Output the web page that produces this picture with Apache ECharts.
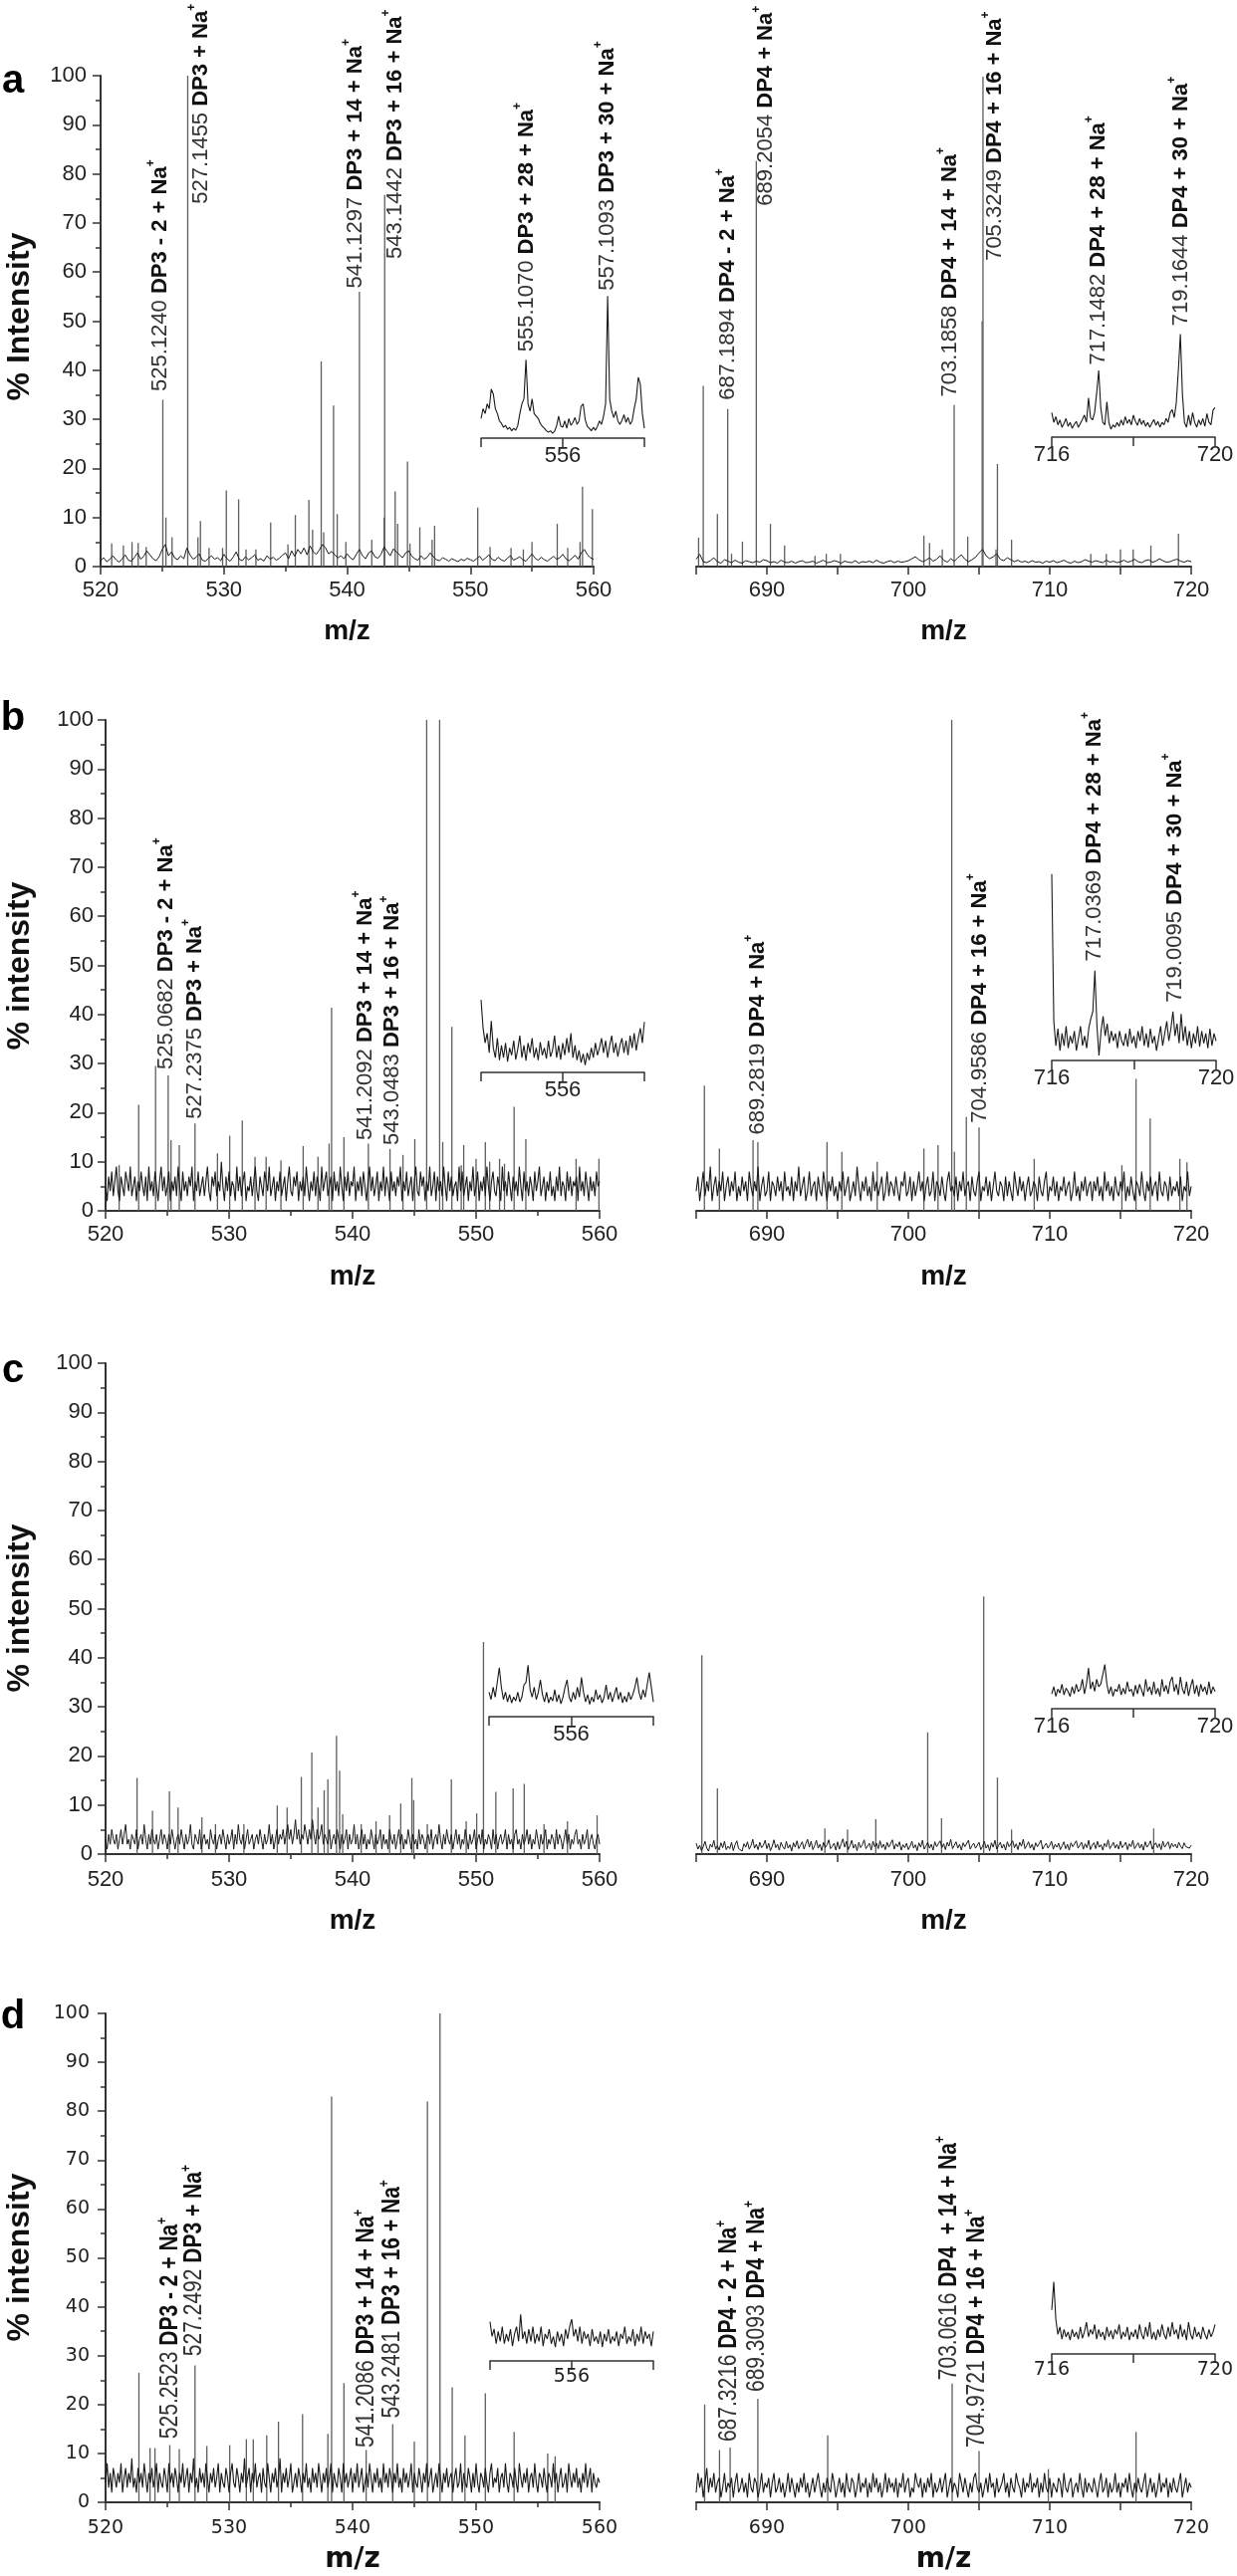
<!DOCTYPE html>
<html><head><meta charset="utf-8">
<script src="https://cdn.jsdelivr.net/npm/echarts@6.0.0/dist/echarts.min.js"></script>
<style>html,body{margin:0;padding:0;background:#fff}#c{width:1242px;height:2587px}</style>
</head><body><div id="c"></div>
<script>
// ---------- DATA ----------
const A_NOISE_STEP = 0.25;   // m/z spacing of baseline samples, panel a
const NOISE_STEP = 0.125;    // m/z spacing of baseline samples, panels b-d
const INSET_STEP = 0.05;     // m/z spacing of inset samples
const LEFT_START = 520, RIGHT_START = 685, INSET_L_START = 554, INSET_R_START = 716;

// panel a
const aLeftNoise = [
1.2,1.8,1.0,1.5,2.2,1.4,0.9,1.6,2.4,1.3,1.1,1.9,2.8,1.5,2.1,3.2,2.4,1.6,1.2,2.0,
3.5,4.5,2.2,3.0,1.8,1.4,2.2,1.6,3.8,2.4,1.5,1.9,2.6,1.3,1.1,1.7,2.2,1.5,1.8,1.2,
2.5,1.6,1.1,1.9,3.0,1.5,1.2,2.0,1.4,1.8,2.4,1.3,1.6,1.1,2.2,1.5,1.9,1.3,1.7,2.3,
2.8,1.6,3.2,2.1,3.5,2.6,3.8,2.4,4.2,3.0,2.5,3.4,4.5,3.8,2.6,3.1,2.4,1.8,2.2,1.6,
2.6,1.8,1.4,2.5,3.5,2.2,1.6,2.8,3.2,2.0,1.7,2.5,4.0,3.1,2.2,3.6,3.0,2.4,1.8,2.8,
3.2,2.1,1.6,1.3,2.2,1.5,1.9,2.8,2.0,1.4,1.2,1.8,1.5,1.1,1.6,1.3,1.0,1.5,1.2,1.7,
1.4,1.1,1.6,2.1,1.3,1.8,2.4,1.5,1.2,1.9,1.4,1.1,1.7,2.2,1.3,1.6,2.0,1.4,1.1,1.8,
2.6,1.7,1.3,1.9,1.4,1.1,1.6,2.1,1.5,1.8,2.5,1.6,1.2,1.7,2.3,1.5,2.8,3.5,2.4,1.8,
1.5];
const aRightNoise = [
1.5,2.5,1.0,0.8,1.2,1.8,1.0,0.7,1.4,1.1,0.8,1.3,0.9,0.7,1.2,1.0,0.8,1.1,0.9,1.4,
1.2,0.8,1.0,0.7,1.3,0.9,0.8,1.1,0.7,1.0,1.2,0.8,0.9,1.1,0.7,1.0,1.3,0.8,0.9,1.2,
1.0,0.7,1.1,0.9,0.8,1.2,0.7,1.0,0.9,1.1,0.8,1.3,0.9,0.7,1.0,1.2,0.8,1.1,0.9,1.0,
1.2,1.6,2.0,1.4,1.0,1.3,1.8,1.1,1.5,2.2,1.3,0.9,1.6,1.1,1.8,2.4,1.5,1.0,1.4,1.9,
2.8,3.5,2.2,1.6,2.0,2.6,1.5,1.2,1.8,1.4,1.0,1.3,0.9,1.1,0.8,1.2,0.9,1.0,0.7,1.1,
0.9,1.2,0.8,1.0,1.3,0.9,0.7,1.1,0.8,1.0,1.4,1.1,0.9,1.2,1.0,0.8,1.3,0.9,1.1,0.8,
1.0,1.3,0.9,1.1,1.5,1.0,0.8,1.2,1.4,0.9,1.1,1.6,1.2,0.9,1.0,1.3,1.5,1.1,0.9,1.2,
1.0];
const aLeftPeaks = [[520.9,4.7],[521.85,4.3],[522.55,5],[523.05,4.8],[523.7,4],[525.05,34],[525.3,10],[525.8,6],[527.07,100],[527.9,6],[528.1,9.3],[528.8,3.8],[529.9,3.8],[530.2,15.5],[531.2,13.7],[531.8,3.5],[532.6,3.5],[533.8,9],[535.2,4.5],[535.8,10.5],[536.9,13.6],[537.2,7.5],[537.9,41.8],[538.1,7],[538.9,32.8],[539.2,10.7],[539.9,5],[541.0,56],[542.0,5.5],[543.0,10],[543.05,75.7],[543.9,15.3],[544.1,8.7],[544.9,21.4],[545.1,4.7],[545.9,8],[546.9,5.5],[547.1,8.3],[550.6,12],[551.6,4],[553.3,3.8],[554.3,3.5],[555.0,5],[557.05,8.7],[557.9,3.8],[558.9,5],[559.1,16.3],[559.9,11.7]];
const aRightPeaks = [[685.17,5.9],[685.5,36.8],[686.5,10.7],[687.23,32.1],[687.5,2.6],[688.27,5.1],[689.25,82.6],[690.25,8.7],[691.25,4.3],[693.4,2.2],[694.2,2.6],[695.2,2.6],[701.1,6.3],[701.5,4.8],[702.4,3.5],[703.24,32.9],[704.2,6.1],[705.22,50],[705.28,99.8],[706.2,3.5],[706.3,20.9],[707.3,5.5],[712.9,2.6],[714.0,2.6],[715.0,3.5],[715.9,3.5],[717.15,4.3],[719.1,6.7]];
const aInsetLeft = [
4,6,5,7,6,10,9,6,5,3.5, 3,2.2,2.6,1.8,2.2,1.5,2,1.6,2.6,5,
7,8,16,7,5.5,8,5,4.5,4,3, 2.4,2,1.5,1.2,1.5,1,1.4,2.5,4.5,2.5,
2.2,3.5,2,4,2.6,3.2,4.2,2.8,3.5,6.5, 7,3.8,2.4,2,1.5,2.2,1.6,2.4,3.5,2.8,
4.5,7,29,8,5.5,4.2,5.5,3.5,2.8,3.6, 4.8,3.2,4.2,2.8,3.5,6,8,12.4,11,5,
2];
const aInsetRight = [
5,3,4.2,2.5,3.5,2,2.8,3.8,2.2,3, 1.8,2.6,3.2,2,2.8,3.6,4.5,3,8,4,
3.5,5,9,13.6,6,3,2.5,7.2,3,1.6, 2.5,2,3,2.2,3.5,2.4,4.2,2.8,3.6,2.5,
4.5,3.2,2.4,3.8,2.6,3.4,2.2,3,2,2.8, 3.6,2.4,3.2,2,3,2.5,3.8,3,5,5.6,
4,7,13.6,21,8.8,3,2,4.5,2.4,5, 3,2,3.5,2.5,3.8,2.2,4.8,3,2.5,5.5,
6];
const aLeftLabels = [[524.85,35.5,'525.1240','DP3 - 2 + Na'],[528.13,73.7,'527.1455','DP3 + Na'],[540.65,56.5,'541.1297','DP3 + 14 + Na'],[543.93,62.5,'543.1442','DP3 + 16 + Na']];
const aRightLabels = [[687.27,33.7,'687.1894','DP4 - 2 + Na'],[689.94,73.3,'689.2054','DP4 + Na'],[702.93,34.4,'703.1858','DP4 + 14 + Na'],[706.09,62.1,'705.3249','DP4 + 16 + Na']];
const aInsetLeftLabels = [[555.12,17.4,'555.1070','DP3 + 28 + Na'],[557.1,29.9,'557.1093','DP3 + 30 + Na']];
const aInsetRightLabels = [[717.15,14.5,'717.1482','DP4 + 28 + Na'],[719.17,22.5,'719.1644','DP4 + 30 + Na']];

// panel b
const bLeftNoise = [
5,2,7,4,8,3,6,9,4,2,7,5,3,8,6,4,
9,3,5,7,2,6,4,8,5,3,7,2,9,4,6,3,
8,5,2,6,9,4,7,3,5,8,2,6,4,7,3,9,
5,2,8,4,6,3,7,5,9,2,6,4,8,3,5,7,
3,6,9,4,2,7,5,8,3,6,4,10,5,2,7,4,
8,3,6,5,2,9,4,7,3,6,8,2,5,4,7,3,
6,9,4,2,7,5,3,8,6,4,9,3,5,7,2,6,
4,8,3,5,7,2,6,9,4,3,7,5,8,2,6,4,
7,3,9,5,2,6,4,8,3,7,5,2,9,4,6,8,
3,5,7,2,8,4,6,3,9,5,2,7,4,8,3,6,
5,9,2,6,4,7,3,8,5,2,6,9,4,7,3,5,
8,2,6,4,9,3,7,5,2,8,4,6,3,7,5,9,
2,6,4,8,3,5,7,2,6,9,4,3,8,5,7,2,
6,4,9,3,5,8,2,7,4,6,3,9,5,2,8,4,
7,3,5,6,2,9,4,8,3,5,7,2,6,4,9,3,
5,8,2,6,4,7,3,9,5,2,6,8,4,3,7,5,
2,9,4,6,3,8,5,2,7,4,6,3,9,5,2,8,
4,6,3,7,5,2,8,4,6,9,3,5,7,2,6,4,
8,3,5,2,7,4,9,3,6,5,2,8,4,7,3,6,
5,7,2,9,4,6,3,8,5,2,7,4,6,3,8,5,
6];
const bRightNoise = [
4,7,2,5,8,3,6,4,9,2,5,7,3,6,4,8,
2,5,7,3,6,4,8,2,5,3,7,4,6,2,8,5,
3,6,4,9,2,5,7,3,4,8,2,6,5,3,7,4,
6,2,8,4,5,3,7,2,6,4,9,3,5,7,2,4,
8,3,5,6,2,7,4,3,8,5,2,6,4,7,3,5,
2,6,4,8,3,5,7,2,4,6,3,9,5,2,6,4,
7,3,5,2,8,4,6,3,5,7,2,4,8,3,6,5,
3,7,4,2,6,5,8,3,4,7,2,6,3,5,8,4,
6,2,5,7,3,4,8,2,6,5,3,7,4,2,6,8,
4,5,3,7,2,6,4,8,3,5,6,2,7,4,3,6,
8,2,5,4,7,3,6,2,5,8,4,3,6,5,2,7,
3,6,4,2,8,5,3,7,4,6,2,5,7,3,4,6,
5,2,7,4,3,6,8,2,5,4,7,3,6,2,5,4,
7,3,5,6,2,4,8,3,5,2,6,4,7,3,5,6,
2,6,4,7,3,5,2,8,4,6,3,5,2,7,4,3,
6,4,8,2,5,3,7,4,2,6,5,3,8,4,2,6,
4,7,3,5,6,2,8,4,3,6,5,2,7,3,5,4,
6,3,7,2,5,4,8,3,
5];
const bLeftPeaks = [[521.1,9.3],[522.68,21.6],[524.05,29.5],[525.07,27.6],[525.3,14.4],[525.97,13.4],[527.24,17.8],[529.06,11.7],[530.05,15.3],[531.07,18.4],[532.1,11],[533.0,11],[534.2,10.3],[536.0,13.2],[537.2,11],[538.1,13.7],[538.3,41.4],[539.3,15],[541.28,13.7],[543.03,12.6],[544.08,11.4],[545.04,14.6],[546.0,100],[547.05,100],[547.3,14],[548.04,37.5],[548.8,9.3],[549.0,13.4],[550.0,10.6],[550.75,14],[551.1,10],[551.9,10.6],[552.3,9.6],[553.08,21.2],[554.03,14.6],[558.1,10.6],[559.95,10.6]];
const bRightPeaks = [[685.58,25.5],[686.64,12.7],[689.02,14.4],[689.36,14],[694.25,14],[695.3,12],[697.8,10],[701.1,12.7],[702.1,13.4],[703.07,100],[703.26,12],[704.1,19.1],[705.0,17],[708.9,10.6],[715.1,9.3],[716.1,26.9],[717.1,18.8],[719.2,10.6],[719.7,9.9]];
const bInsetLeft = [
14.8,9,6,8,4,10.5,5,3,7,2.5, 5.5,3,6,2.2,5,3.5,6.5,2.6,4.8,7.5,
3,5.5,2.4,6,4,7,3,5,2.5,6.2, 3.5,5,2.8,6.5,3.2,4.5,7.5,3,5.5,2.6,
6,3.5,7,4,8,3,5.5,2.5,4.5,2, 3.8,1.5,4,2.5,5,3,6,3.5,5,7,
4,6.5,3,5.5,7.5,4,6,3.2,5.5,7, 4,6.5,3.5,7.5,5,8,4.5,7,9,6,
10.3];
const bInsetRight = [
38,8,3,6.5,2,5.5,3,7,2.5,5, 3.5,6,2,4.5,7,3,5,2.5,6.5,8.5,
10,18.3,7,1,6,9,5,7.5,3.5,6, 4,5.5,2.5,6,4,3,5.5,2.8,6.5,3.5,
5,2.5,6,4,7,3,5.5,2.6,6.5,3.5, 5,2,4.5,7,3,5.5,8,4,6.5,10,
5,7.5,3.5,9.5,4,7,3,6,2.5,5.5, 3.5,7,2.8,6,3.5,5.5,2.5,6.5,3,5.5,
4];
const bLeftLabels = [[524.92,28.6,'525.0682','DP3 - 2 + Na'],[527.23,18.5,'527.2375','DP3 + Na'],[541.02,14.2,'541.2092','DP3 + 14 + Na'],[543.25,13.2,'543.0483','DP3 + 16 + Na']];
const bRightLabels = [[689.34,15.3,'689.2819','DP4 + Na'],[705.05,17.7,'704.9586','DP4 + 16 + Na']];
const bInsetLeftLabels = [];
const bInsetRightLabels = [[717.04,20,'717.0369','DP4 + 28 + Na'],[719.0,11.6,'719.0095','DP4 + 30 + Na']];

// panel c
const cLeftNoise = [
3,1,4,2,5,3,2,4,1,3,5,2,4,6,2,3,
1,4,3,2,5,1,3,4,2,6,3,1,4,2,5,3,
2,4,1,3,5,2,4,3,1,4,2,5,3,1,3,4,
2,5,3,1,4,2,3,6,2,1,4,3,2,5,1,3,
4,2,3,1,5,3,2,4,1,3,4,2,5,3,1,4,
2,3,5,1,4,2,6,3,2,4,1,3,5,2,3,4,
1,3,4,2,5,3,1,4,2,3,6,2,4,1,3,5,
2,4,3,5,2,4,6,3,5,2,4,7,3,5,2,4,
3,6,4,2,5,3,7,4,2,5,3,4,6,2,4,3,
2,5,1,3,4,2,5,3,1,4,2,3,5,1,4,2,
3,6,2,4,1,3,5,2,4,1,3,2,5,3,1,4,
2,3,5,1,4,2,3,1,5,3,2,4,1,3,5,2,
4,1,3,2,5,3,1,4,2,3,1,5,2,4,3,1,
3,4,2,5,1,3,4,2,6,3,1,4,2,5,3,2,
4,1,3,5,2,4,1,3,2,5,3,1,4,2,3,5,
1,3,4,2,5,1,3,2,4,3,1,5,2,4,1,3,
4,2,3,5,1,4,2,3,1,4,5,2,3,1,4,2,
3,5,2,4,1,3,2,5,3,1,4,2,3,5,1,3,
2,4,3,1,5,2,4,3,1,3,5,2,4,1,3,2,
4,5,2,3,1,4,2,3,5,1,3,4,2,1,3,4,
2];
const cRightNoise = [
2.2,1.0,1.8,0.7,1.5,2.6,1.2,0.6,2.0,1.4,2.8,1.0,1.7,0.8,2.3,1.3,
2.6,0.9,1.6,1.1,2.4,0.7,1.9,2.7,1.1,1.5,0.6,2.1,1.4,2.5,1.0,1.7,
3.0,1.2,2.0,0.9,2.4,1.3,1.8,2.8,1.1,2.2,0.7,1.6,2.9,1.3,2.0,0.8,
2.4,1.5,1.0,2.6,1.2,1.9,0.6,2.3,1.4,2.7,1.1,1.8,2.5,1.0,2.1,3.0,
1.4,2.6,0.9,1.7,2.8,1.2,2.0,0.7,2.4,1.3,1.9,2.9,1.1,1.6,2.2,0.8,
2.5,1.0,2.1,3.1,1.4,2.6,0.9,1.7,2.8,1.2,2.0,0.7,2.4,1.3,1.9,2.9,
1.1,1.6,2.2,0.8,2.6,1.5,2.2,1.1,2.7,1.3,2.0,0.9,2.4,1.4,1.8,2.9,
1.0,2.1,1.5,2.5,0.8,1.9,1.3,2.2,0.9,1.6,2.6,1.2,1.9,0.7,2.3,1.4,
2.8,1.0,1.7,2.4,1.2,2.0,0.8,2.5,1.5,1.1,2.7,1.3,2.1,0.9,2.4,1.6,
3.0,1.1,1.8,2.5,1.2,2.0,0.8,2.3,1.5,1.9,2.8,1.0,1.7,2.2,1.2,1.8,
2.4,0.9,1.6,2.6,1.2,1.9,0.7,2.3,1.4,2.8,1.0,1.7,2.4,1.2,2.0,0.8,
2.5,1.5,1.1,2.7,1.3,2.1,0.9,2.4,1.6,3.0,1.1,1.8,2.5,1.2,2.0,0.8,
2.3,1.5,1.9,2.8,1.0,1.7,2.2,1.2,1.8,2.6,1.0,2.0,1.4,2.2,0.9,1.7,
2.5,1.1,2.0,0.8,2.3,1.5,1.9,2.7,1.2,1.6,2.4,1.0,2.1,1.3,2.8,0.9,
1.8,2.3,1.1,2.6,1.4,1.9,0.8,2.2,1.5,2.9,1.1,1.7,2.4,1.2,2.0,1.0,
2.6,1.3,1.8,2.4,0.9,2.1,1.5,2.8,1.1,1.7,2.3,1.2,2.0,0.8,2.5,1.4,
1.9,2.7,1.0,1.8,2.3,1.3,2.1,0.9,2.6,1.4,1.8,2.5,1.1,2.2,1.5,2.0,
1.2,2.4,1.6,1.1,2.3,1.5,1.9,1.2,
1.8];
const cLeftPeaks = [[522.55,15.5],[523.8,8.8],[525.17,12.8],[525.87,9.5],[527.8,7.5],[528.9,6.1],[531.2,6.1],[533.9,9.9],[534.7,9.5],[535.85,15.7],[536.7,20.7],[537.2,9.5],[537.7,13],[538.0,15.2],[538.7,24.1],[538.95,17],[539.2,8.1],[540.7,6.1],[541.9,6.7],[543.0,7.9],[543.9,10.3],[544.8,15.5],[544.95,11],[546.05,6.1],[548.0,15.2],[549.2,6.7],[550.05,8.3],[550.6,43.2],[551.6,12.7],[553.0,13.4],[553.9,14.3],[555.5,6.1],[557.4,6.7],[559.8,7.9]];
const cRightPeaks = [[685.4,40.5],[686.5,13.4],[694.1,5.2],[695.7,5],[697.7,7.1],[701.37,24.8],[702.35,7.3],[705.33,52.5],[706.3,15.6],[707.3,5],[717.35,5.2]];
const cInsetLeft = [
5,3.5,6,4,7,10,6,3.5,5,3, 4.5,2.8,4,3.2,5,3,4,6.5,7,10.5,
5.5,4,6,3.5,5,7.5,4.5,3,5,2.8, 4,3.2,5.5,3,4.5,2.6,4,6,7.5,4,
3,5,3.5,6,4,8,5,3,4.5,2.5, 4,3,5.5,3.5,4.5,2.8,4,6.5,3.5,5,
3,4.5,6,3.5,5,2.8,4.2,3,5,3.5, 4.5,6,8,5,3.5,5.5,4,6.5,9,6,
3];
const cInsetRight = [
3,4.5,2.5,4,3.2,5,2.8,4.2,3.5,2.5, 4.5,3,5,3.5,4,6,3,5,8.3,4,
5.5,3.5,6,4.5,5,7,9,5,3,4.5, 2.5,4,3.5,5,2.8,4.2,3,5.5,3.5,4,
2.5,4.8,3,5,3.8,2.5,6,3.5,4.5,2.8, 5.5,3,4.2,2.5,6,3.5,4.8,3,5.5,6.5,
3.5,5,2.8,6.5,4,3,5.5,2.6,4.5,6, 3,4.8,2.5,5,3.5,4.5,2.8,5.5,3,4.5,
3.5];

// panel d
const dLeftNoise = [
4,8,3,6,2,7,5,3,6,4,8,2,5,7,3,6,
4,9,3,5,2,7,4,6,3,8,5,2,6,4,7,3,
5,8,2,6,4,3,7,5,2,8,4,6,3,7,5,2,
6,4,8,3,5,7,2,6,4,9,3,5,2,7,4,6,
3,8,5,2,6,4,7,3,5,8,2,6,4,3,7,5,
2,6,8,4,3,7,5,2,6,4,9,3,5,7,2,6,
4,8,3,5,6,2,7,4,3,8,5,2,6,4,7,3,
5,9,2,6,4,7,3,5,8,2,4,6,3,7,5,2,
6,4,8,3,5,2,7,4,6,3,8,5,2,6,4,7,
3,5,8,2,6,4,3,7,5,2,8,4,6,3,5,7,
2,6,4,8,3,5,7,2,4,6,3,8,5,2,6,4,
7,3,5,2,8,4,6,3,7,5,2,6,4,8,3,5,
2,7,4,6,3,5,8,2,6,4,3,7,5,2,6,4,
8,3,5,7,2,4,6,3,8,5,2,6,4,7,3,5,
6,2,5,7,3,4,8,2,6,4,3,7,5,2,6,3,
8,4,2,6,5,3,7,4,2,6,8,3,5,4,7,2,
5,6,3,8,4,2,6,5,3,7,4,2,8,5,3,6,
4,7,2,5,6,3,8,4,2,6,5,3,7,4,2,6,
5,3,8,4,6,2,5,7,3,4,6,2,8,5,3,6,
4,7,3,5,2,6,4,8,3,5,7,2,6,4,3,5,
4];
const dRightNoise = [
2,6,3,5,1,4,7,2,5,3,6,2,4,5,1,3,
6,2,4,3,5,1,4,6,2,3,5,2,4,1,6,3,
2,5,4,1,3,6,2,4,3,5,1,4,6,2,3,5,
2,4,1,3,6,2,5,3,1,4,2,5,3,6,2,4,
1,3,5,2,4,6,3,1,4,2,5,3,2,6,4,1,
3,5,2,4,1,6,3,2,5,4,1,3,6,2,4,3,
5,1,4,2,6,3,5,2,4,1,3,6,2,5,3,4,
2,5,1,4,3,6,2,4,5,1,3,2,6,4,3,5,
1,4,2,5,3,6,1,4,2,3,5,2,4,6,1,3,
5,2,4,3,1,6,4,2,5,3,1,4,2,5,6,3,
2,4,1,3,5,2,6,3,4,1,5,2,3,4,6,2,
4,1,5,3,2,6,4,3,1,5,2,4,3,6,2,4,
3,5,1,4,2,6,3,2,5,1,4,3,2,5,4,1,
6,3,2,4,5,1,3,4,2,6,3,1,5,2,4,3,
2,5,3,1,4,6,2,3,5,1,4,2,3,6,2,4,
1,4,3,5,2,6,3,1,4,2,5,3,2,4,6,1,
3,5,2,4,1,3,6,2,4,3,5,1,4,2,5,3,
2,4,6,1,3,5,2,4,
3];
const dLeftPeaks = [[522.7,26.5],[523.6,11.1],[524.0,11.1],[525.2,11.7],[525.97,10.9],[527.24,28],[528.2,11.5],[530.05,11.7],[531.4,12.9],[531.96,12.9],[533.05,13.7],[534.0,16.5],[535.95,18],[538.0,14],[538.3,83],[539.3,24.4],[541.1,10.7],[543.25,16],[545.0,12.4],[546.06,82],[547.08,100],[548.07,23.5],[549.1,13.7],[550.75,22.3],[553.08,14.4],[555.8,10],[556.4,9.4]];
const dRightPeaks = [[685.6,20],[686.65,10.7],[687.4,11.2],[689.36,21.2],[694.3,13.7],[703.1,24.3],[705.0,10.5],[709.9,6.8],[716.1,14.4]];
const dInsetLeft = [
8,5,6.5,3.5,6,4,7,3.5,5.5,4, 6.5,3,5.5,7,4,9.5,4.5,6,3.5,6.5,
4,7,3.5,5.5,4,7,3,5.5,4.5,6.5, 3.5,5,2.8,6,4,5.5,3,6.5,4.5,7,
8.5,5,6.5,4,7,3.5,6,4.5,5.5,3, 6.5,4,5,3.5,6,2.8,5.5,4,6.5,3.5,
5,4,6,3,5.5,4.5,7,3.5,5,4, 6.5,3,5.5,4,7,3.5,6,4.5,5.5,3,
6];
const dInsetRight = [
9,14.7,7,4,5.5,3,5,3.5,4.5,2.8, 5,3.5,4.5,3,5.5,3.2,4.5,6.5,3.5,5,
4,6,3,5,3.5,4.5,2.8,5.5,3.5,4.8, 3,5,4,6,3,4.5,3.5,5.5,2.8,4.5,
3.5,5,3,6,4,3,5.5,3.5,6.5,3, 4.5,2.8,5,3.5,6,4,3,5.5,3.5,6.5,
4,5,3,6,3.5,5,2.8,6.5,4,3, 5.5,3.5,4.5,3,5.5,4,3,5,3.5,4.5,
6];
const dLeftLabels = [[525.24,12.8,'525.2523','DP3 - 2 + Na'],[527.18,29.7,'527.2492','DP3 + Na'],[541.13,11,'541.2086','DP3 + 14 + Na'],[543.23,17,'543.2481','DP3 + 16 + Na']];
const dRightLabels = [[687.3,12.2,'687.3216','DP4 - 2 + Na'],[689.28,22.4,'689.3093','DP4 + Na'],[702.86,24.8,'703.0616','DP4  + 14 + Na'],[704.84,11,'704.9721','DP4 + 16 + Na']];

// tick / axis text
const Y_NAMES = ['% Intensity', '% intensity', '% intensity', '% intensity'];
const PANEL_LETTERS = ['a', 'b', 'c', 'd'];
const X_NAME = 'm/z';

// ---------- LAYOUT ----------
const SANS = 'Liberation Sans, Arial, Helvetica, sans-serif';
const WIDE = 'DejaVu Sans, Verdana, sans-serif';
const INSET_H = 197, INSET_MAX = 40;

const ROWS = [
 {top:76,  h:493, L:[101,495], R:[699,497], IL:[483,164,440],  IR:[1056,164,439],  letterY:82,   yNameY:318, step:A_NOISE_STEP, noiseW:1,
  xMargin:13, yMargin:14, nameGap:51, tickFont:SANS, tickSize:22, nameFont:SANS, lblSize:22, lblScale:1,
  data:[aLeftNoise,aRightNoise,aLeftPeaks,aRightPeaks,aInsetLeft,aInsetRight,aLeftLabels,aRightLabels,aInsetLeftLabels,aInsetRightLabels]},
 {top:723, h:493, L:[106,496], R:[699,497], IL:[483,164,1077], IR:[1056,165,1065], letterY:722,  yNameY:970, step:NOISE_STEP, noiseW:1.1,
  xMargin:13, yMargin:12, nameGap:52, tickFont:SANS, tickSize:22, nameFont:SANS, lblSize:22, lblScale:1,
  data:[bLeftNoise,bRightNoise,bLeftPeaks,bRightPeaks,bInsetLeft,bInsetRight,bLeftLabels,bRightLabels,bInsetLeftLabels,bInsetRightLabels]},
 {top:1369,h:493, L:[106,496], R:[699,497], IL:[491,165,1724], IR:[1056,164,1716], letterY:1377, yNameY:1615, step:NOISE_STEP, noiseW:1,
  xMargin:15, yMargin:13, nameGap:53, tickFont:SANS, tickSize:22, nameFont:SANS, lblSize:22, lblScale:1,
  data:[cLeftNoise,cRightNoise,cLeftPeaks,cRightPeaks,cInsetLeft,cInsetRight,[],[],[],[]]},
 {top:2022,h:491, L:[106,496], R:[699,497], IL:[492,164,2371], IR:[1056,164,2364], letterY:2026, yNameY:2267, step:NOISE_STEP, noiseW:1.1,
  xMargin:17, yMargin:16, nameGap:44, tickFont:WIDE, tickSize:19, nameFont:WIDE, lblSize:25, lblScale:0.84,
  data:[dLeftNoise,dRightNoise,dLeftPeaks,dRightPeaks,dInsetLeft,dInsetRight,dLeftLabels,dRightLabels,[],[]]}
];

const AX = '#333';
const grids = [], xAxes = [], yAxes = [], series = [], graphics = [];

function seq(start, step, vals) { return vals.map((v, i) => [Math.round((start + i * step) * 1000) / 1000, v]); }

function addGrid(x, y, w, h) {
  grids.push({left:x, top:y, width:w, height:h, containLabel:false, outerBoundsMode:'none'});
  return grids.length - 1;
}
function stickSeries(ax, peaks) {
  return {type:'custom', xAxisIndex:ax, yAxisIndex:ax, data:peaks, silent:true, clip:true, z:2,
    renderItem:(params, api) => {
      const x = api.value(0), y = api.value(1);
      const p0 = api.coord([x, 0]), p1 = api.coord([x, y]);
      return {type:'line', shape:{x1:p0[0], y1:p0[1], x2:p1[0], y2:p1[1]}, style:{stroke:'#5e5e5e', lineWidth:1.3}};
    }};
}
function lineSeries(ax, data, width) {
  return {type:'line', xAxisIndex:ax, yAxisIndex:ax, data:data, symbol:'none', silent:true, z:3,
    lineStyle:{color:'#1a1a1a', width:width}};
}
function labelSeries(ax, labels, size, scale) {
  return {type:'custom', xAxisIndex:ax, yAxisIndex:ax, data:labels.map(l => [l[0], l[1]]), silent:true, z:5,
    renderItem:(params, api) => {
      const l = labels[params.dataIndex];
      const p = api.coord([l[0], l[1]]);
      return {type:'text', x:p[0], y:p[1] - 1, rotation:Math.PI / 2, scaleX:scale, scaleY:1,
        style:{text:'{n|' + l[2] + ' }{b|' + l[3] + '}{s|+}', align:'left', verticalAlign:'middle',
          rich:{
            n:{fontFamily:SANS, fontSize:size, fill:'#333', lineHeight:30},
            b:{fontFamily:SANS, fontSize:size, fontWeight:'bold', fill:'#111', lineHeight:30},
            s:{fontFamily:SANS, fontSize:Math.round(size * 0.55), fontWeight:'bold', fill:'#111', lineHeight:12, verticalAlign:'top'}
          }}};
    }};
}

ROWS.forEach((r, ri) => {
  const [lN, rN, lP, rP, iL, iR, lL, rL, iLL, iRL] = r.data;
  const tickLbl = {fontFamily:r.tickFont, fontSize:r.tickSize, color:'#222'};
  const nameStyle = {fontFamily:r.nameFont, fontSize:28, fontWeight:'bold', color:'#111'};
  const line2 = {show:true, onZero:false, lineStyle:{color:AX, width:2}};

  // main left
  let g = addGrid(r.L[0], r.top, r.L[1], r.h);
  xAxes.push({gridIndex:g, type:'value', min:520, max:560, interval:10, axisLine:line2,
    axisTick:{show:true, length:8, lineStyle:{color:AX, width:1.5}},
    minorTick:{show:true, splitNumber:2, length:5, lineStyle:{color:AX, width:1.5}},
    splitLine:{show:false}, axisLabel:Object.assign({margin:r.xMargin}, tickLbl),
    name:X_NAME, nameLocation:'middle', nameGap:r.nameGap, nameTextStyle:nameStyle});
  yAxes.push({gridIndex:g, type:'value', min:0, max:100, interval:10, axisLine:line2,
    axisTick:{show:true, length:8, lineStyle:{color:AX, width:1.5}},
    minorTick:{show:true, splitNumber:2, length:5, lineStyle:{color:AX, width:1.5}},
    splitLine:{show:false}, axisLabel:Object.assign({margin:r.yMargin}, tickLbl)});
  series.push(stickSeries(g, lP), lineSeries(g, seq(LEFT_START, r.step, lN), r.noiseW), labelSeries(g, lL, r.lblSize, r.lblScale));

  // main right
  g = addGrid(r.R[0], r.top, r.R[1], r.h);
  xAxes.push({gridIndex:g, type:'value', min:685, max:720, interval:5, axisLine:line2,
    axisTick:{show:true, length:8, lineStyle:{color:AX, width:1.5}},
    splitLine:{show:false}, axisLabel:Object.assign({margin:r.xMargin, formatter:v => (v % 10 === 0 ? String(v) : '')}, tickLbl),
    name:X_NAME, nameLocation:'middle', nameGap:r.nameGap, nameTextStyle:nameStyle});
  yAxes.push({gridIndex:g, type:'value', min:0, max:100, show:false});
  series.push(stickSeries(g, rP), lineSeries(g, seq(RIGHT_START, r.step, rN), r.noiseW), labelSeries(g, rL, r.lblSize, r.lblScale));

  // insets
  const insetAxis = (min, max, shown) => ({type:'value', min:min, max:max, interval:2,
    axisLine:{show:true, onZero:false, lineStyle:{color:AX, width:1.5}},
    axisTick:{show:true, length:9, lineStyle:{color:AX, width:1.5}}, splitLine:{show:false},
    axisLabel:Object.assign({margin:7, formatter:v => (shown.indexOf(v) >= 0 ? String(v) : '')}, tickLbl)});
  g = addGrid(r.IL[0], r.IL[2] - INSET_H, r.IL[1], INSET_H);
  xAxes.push(Object.assign({gridIndex:g}, insetAxis(554, 558, [556])));
  yAxes.push({gridIndex:g, type:'value', min:0, max:INSET_MAX, show:false});
  series.push(lineSeries(g, seq(INSET_L_START, INSET_STEP, iL), 1.1), labelSeries(g, iLL, r.lblSize, r.lblScale));

  g = addGrid(r.IR[0], r.IR[2] - INSET_H, r.IR[1], INSET_H);
  xAxes.push(Object.assign({gridIndex:g}, insetAxis(716, 720, [716, 720])));
  yAxes.push({gridIndex:g, type:'value', min:0, max:INSET_MAX, show:false});
  series.push(lineSeries(g, seq(INSET_R_START, INSET_STEP, iR), 1.1), labelSeries(g, iRL, r.lblSize, r.lblScale));

  // panel letter and y title
  graphics.push({type:'text', x:13, y:r.letterY, style:{text:PANEL_LETTERS[ri], font:'bold 40px ' + SANS, fill:'#000', align:'center', verticalAlign:'middle'}});
  graphics.push({type:'text', x:20, y:r.yNameY, rotation:Math.PI / 2,
    style:{text:Y_NAMES[ri], font:'bold 32px ' + SANS, fill:'#111', align:'center', verticalAlign:'middle'}});
});

const chart = echarts.init(document.getElementById('c'), null, {renderer:'canvas'});
chart.setOption({backgroundColor:'#fff', animation:false, grid:grids, xAxis:xAxes, yAxis:yAxes, series:series, graphic:graphics});
</script></body></html>
